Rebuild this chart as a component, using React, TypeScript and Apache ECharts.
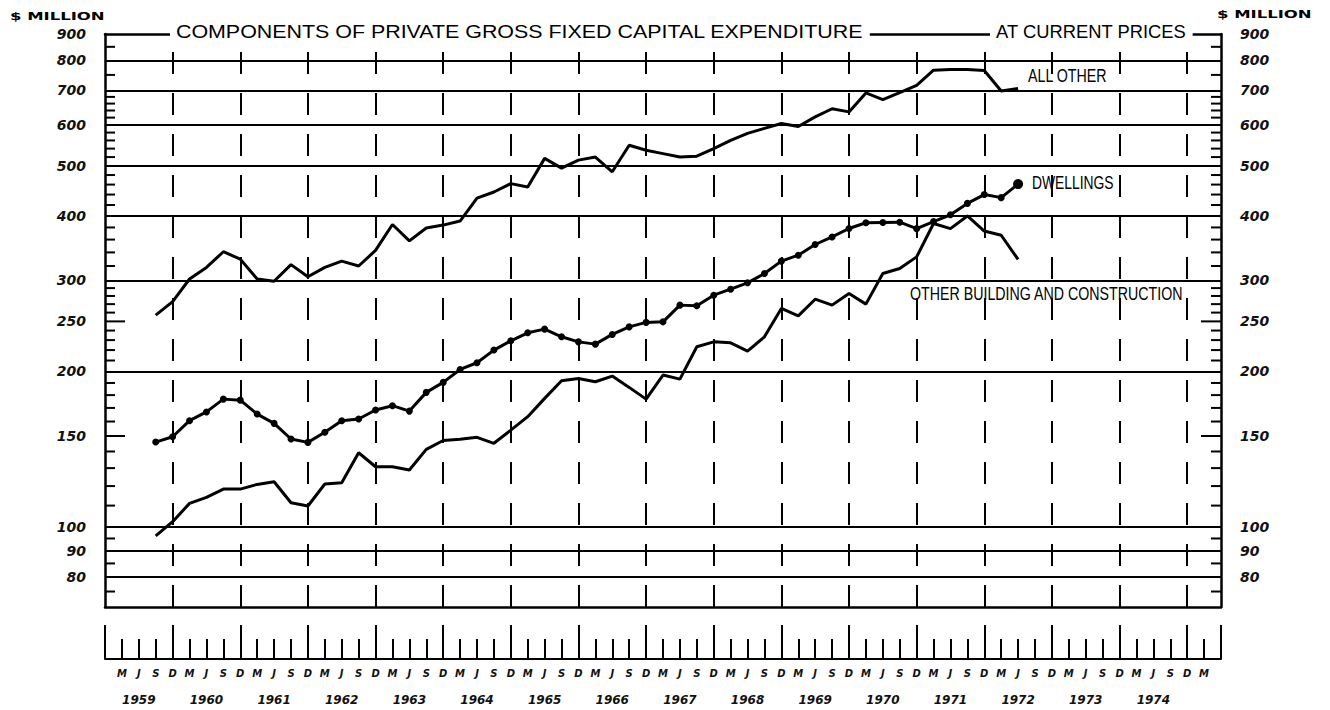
import React, { useEffect, useRef } from "react";
import * as echarts from "echarts";

// Quarter index 0 = December quarter 1958; the axis runs to the June quarter 1975.
const axisStartQuarter = 0;
const axisEndQuarter = 66;
const seriesStartQuarter = 3; // September quarter 1959
const quarterLetters = ["D", "M", "J", "S"];
const years = [1959, 1960, 1961, 1962, 1963, 1964, 1965, 1966, 1967, 1968, 1969, 1970, 1971, 1972, 1973, 1974];

// $ million, quarterly, Sep 1959 .. Jun 1972
const allOther = [
  257, 273, 302, 318, 341, 330, 302, 299, 322, 305, 318, 327, 320, 343, 385, 358, 379, 384, 391, 433,
  445, 462, 455, 517, 495, 513, 520, 487, 548, 536, 528, 520, 522, 540, 560, 578, 591, 604, 596, 622,
  645, 636, 692, 672, 693, 716, 766, 768, 768, 765, 698, 706,
];
const dwellings = [
  146, 149.5, 160.6, 167, 176.8, 176, 165.4, 158.7, 148, 145.8, 152.5, 160.6, 161.8, 168.4, 171.7, 167.6,
  182.2, 190.5, 201.8, 207.9, 220, 229.3, 237.6, 241.5, 233.4, 228.2, 225.9, 235.9, 244, 248.9, 249.5,
  268.8, 268, 281, 288.6, 296.9, 309.5, 327, 335.8, 352.2, 364.3, 378.2, 388, 388.5, 389, 378, 390, 402,
  423, 440, 434, 461,
];
const otherBuilding = [
  96.1, 102.4, 111.1, 114.1, 118.4, 118.4, 120.9, 122.3, 111.4, 109.8, 121.1, 121.8, 139.2, 130.8, 130.8,
  128.9, 141.3, 147, 147.8, 149.1, 145.2, 154, 163.5, 177.4, 191.9, 193.9, 191, 195.9, 186.3, 176.8, 196.8,
  193.3, 223.3, 228.2, 227.2, 219, 233.4, 264.9, 256.3, 276, 268.8, 283.1, 270, 309.5, 316.5, 333.3, 386.7,
  378, 400, 374, 367, 329.5,
];

const yMin = 70;
const yMax = 900;
const yLabelValues = [80, 90, 100, 150, 200, 250, 300, 400, 500, 600, 700, 800, 900];
const yGridValues = [80, 90, 100, 200, 300, 400, 500, 600, 700, 800];
const yMinorTicks = [
  75, 85, 95, 110, 120, 130, 140, 160, 170, 180, 190, 210, 220, 230, 240, 260, 270, 280, 290, 320, 340,
  360, 380, 420, 440, 460, 480, 520, 540, 560, 580, 620, 640, 660, 680, 750, 850,
];
const yLongTicks = [150, 250];

const titleText = "COMPONENTS OF PRIVATE GROSS FIXED CAPITAL EXPENDITURE";
const subtitleText = "AT CURRENT PRICES";
const unitText = "$ MILLION";
const seriesNames = ["ALL OTHER", "DWELLINGS", "OTHER BUILDING AND CONSTRUCTION"];

const toPairs = (vals: number[]) => vals.map((v, i) => [seriesStartQuarter + i, v]);

const BLACK = "#000";
const labelFont = {
  color: "#111",
  fontFamily: "DejaVu Sans",
  fontWeight: "bold" as const,
  fontStyle: "italic" as const,
};

function baseX(extra: any) {
  return {
    type: "value",
    min: axisStartQuarter,
    max: axisEndQuarter,
    gridIndex: 0,
    splitLine: { show: false },
    axisLine: { show: false, onZero: false },
    axisTick: { show: false },
    axisLabel: { show: false },
    ...extra,
  };
}

function baseY(extra: any) {
  return {
    type: "log",
    logBase: 10,
    min: yMin,
    max: yMax,
    gridIndex: 0,
    splitLine: { show: false },
    axisLine: { show: false, onZero: false },
    axisTick: { show: false },
    axisLabel: { show: false },
    ...extra,
  };
}

function textEl(text: string, x: number, y: number, size: number, scaleX: number, extra: any = {}) {
  return {
    type: "text",
    x,
    y,
    scaleX,
    z: 100,
    style: {
      text,
      fill: BLACK,
      fontSize: size,
      fontFamily: "Liberation Sans",
      textAlign: "left",
      textVerticalAlign: "middle",
      align: "left",
      verticalAlign: "middle",
      ...extra,
    },
  };
}

export default function App() {
  const ref = useRef<HTMLDivElement>(null);
  useEffect(() => {
    const chart = echarts.init(ref.current!, null, { renderer: "svg" });
    const octQuarters = years.map((y) => (y - 1958) * 4);
    const tickData = [...yMinorTicks, ...yLongTicks].map((v) => [axisStartQuarter, v]);
    const option: any = {
      animation: false,
      backgroundColor: "#fff",
      grid: { left: 105, right: 109, top: 34, bottom: 103, outerBoundsMode: "none", containLabel: false },
      xAxis: [
        baseX({ position: "bottom", offset: 0, axisLine: { show: true, onZero: false, lineStyle: { color: BLACK, width: 2.5 } } }),
        baseX({
          position: "bottom",
          offset: 52,
          interval: 1,
          axisLine: { show: true, onZero: false, lineStyle: { color: BLACK, width: 2 } },
          axisTick: { show: true, inside: true, length: 20, lineStyle: { color: BLACK, width: 2 } },
          axisLabel: {
            show: true,
            margin: 9,
            fontSize: 10,
            ...labelFont,
            formatter: (v: number) => (v <= axisStartQuarter || v >= axisEndQuarter ? "" : quarterLetters[v % 4]),
          },
        }),
        baseX({
          position: "bottom",
          offset: 52,
          interval: 4,
          axisTick: { show: true, inside: true, length: 34, lineStyle: { color: BLACK, width: 2 } },
        }),
        baseX({
          position: "bottom",
          offset: 52,
          interval: 1,
          axisLabel: {
            show: true,
            margin: 35,
            fontSize: 12,
            ...labelFont,
            formatter: (v: number) => {
              if (v % 4 !== 2) return "";
              const yr = 1958 + (v - 2) / 4 + 1;
              return years.indexOf(yr) >= 0 ? String(yr) : "";
            },
          },
        }),
        baseX({ position: "top", offset: 0, axisLine: { show: true, onZero: false, lineStyle: { color: BLACK, width: 2.5 } } }),
      ],
      yAxis: [
        baseY({
          position: "left",
          axisLine: { show: true, onZero: false, lineStyle: { color: BLACK, width: 2.5 } },
          axisLabel: { show: true, margin: 19, fontSize: 14, ...labelFont, customValues: yLabelValues },
        }),
        baseY({
          position: "right",
          axisLine: { show: true, onZero: false, lineStyle: { color: BLACK, width: 2.5 } },
          axisLabel: { show: true, margin: 19, fontSize: 14, ...labelFont, customValues: yLabelValues },
        }),
      ],
      series: [
        {
          name: "axis ticks",
          type: "custom",
          xAxisIndex: 0,
          yAxisIndex: 0,
          silent: true,
          z: 5,
          data: tickData,
          renderItem: (params: any, api: any) => {
            const v = api.value(1);
            const len = yLongTicks.indexOf(v) >= 0 ? 20 : 10;
            const pl = api.coord([axisStartQuarter, v]);
            const pr = api.coord([axisEndQuarter, v]);
            const style = { stroke: BLACK, lineWidth: 2 };
            return {
              type: "group",
              children: [
                { type: "line", shape: { x1: pl[0], y1: pl[1], x2: pl[0] + len, y2: pl[1] }, style },
                { type: "line", shape: { x1: pr[0] - len, y1: pr[1], x2: pr[0], y2: pr[1] }, style },
              ],
            };
          },
        },
        {
          name: seriesNames[0],
          type: "line",
          xAxisIndex: 0,
          yAxisIndex: 0,
          data: toPairs(allOther),
          showSymbol: false,
          symbol: "none",
          lineStyle: { color: BLACK, width: 3 },
          z: 3,
          markLine: {
            silent: true,
            symbol: ["none", "none"],
            label: { show: false },
            lineStyle: { color: BLACK, width: 2, type: "solid" },
            data: yGridValues.map((v) => ({ yAxis: v })),
          },
        },
        {
          name: seriesNames[1],
          type: "line",
          xAxisIndex: 0,
          yAxisIndex: 0,
          data: toPairs(dwellings).map((p, i, arr) =>
            i === arr.length - 1 ? { value: p, symbolSize: 10 } : { value: p }
          ),
          symbol: "circle",
          symbolSize: 7,
          showSymbol: true,
          itemStyle: { color: BLACK },
          lineStyle: { color: BLACK, width: 3 },
          z: 3,
        },
        {
          name: seriesNames[2],
          type: "line",
          xAxisIndex: 0,
          yAxisIndex: 0,
          data: toPairs(otherBuilding),
          showSymbol: false,
          symbol: "none",
          lineStyle: { color: BLACK, width: 3 },
          z: 3,
          markLine: {
            silent: true,
            symbol: ["none", "none"],
            label: { show: false },
            lineStyle: { color: BLACK, width: 2, type: [22, 19] },
            data: octQuarters.map((q) => [{ coord: [q, yMin] }, { coord: [q, yMax] }]),
          },
        },
      ],
      graphic: [
        textEl(titleText, 170, 32, 18, 1.19, { backgroundColor: "#fff", padding: [2, 5] }),
        textEl(subtitleText, 990, 32, 18, 1.02, { backgroundColor: "#fff", padding: [2, 6] }),
        textEl(seriesNames[0], 1028, 75, 18, 0.79),
        textEl(seriesNames[1], 1032, 182, 18, 0.77),
        textEl(seriesNames[2], 910, 293, 18, 0.79),
        textEl(unitText, 10, 16, 10, 1.65, { fontFamily: "DejaVu Sans", fontWeight: "bold" }),
        textEl(unitText, 1217, 14, 10, 1.65, { fontFamily: "DejaVu Sans", fontWeight: "bold" }),
      ],
    };
    chart.setOption(option);
    return () => chart.dispose();
  }, []);
  return (
    <div
      ref={ref}
      style={{ position: "fixed", left: 0, top: 0, width: 1330, height: 710, background: "#fff" }}
    />
  );
}
